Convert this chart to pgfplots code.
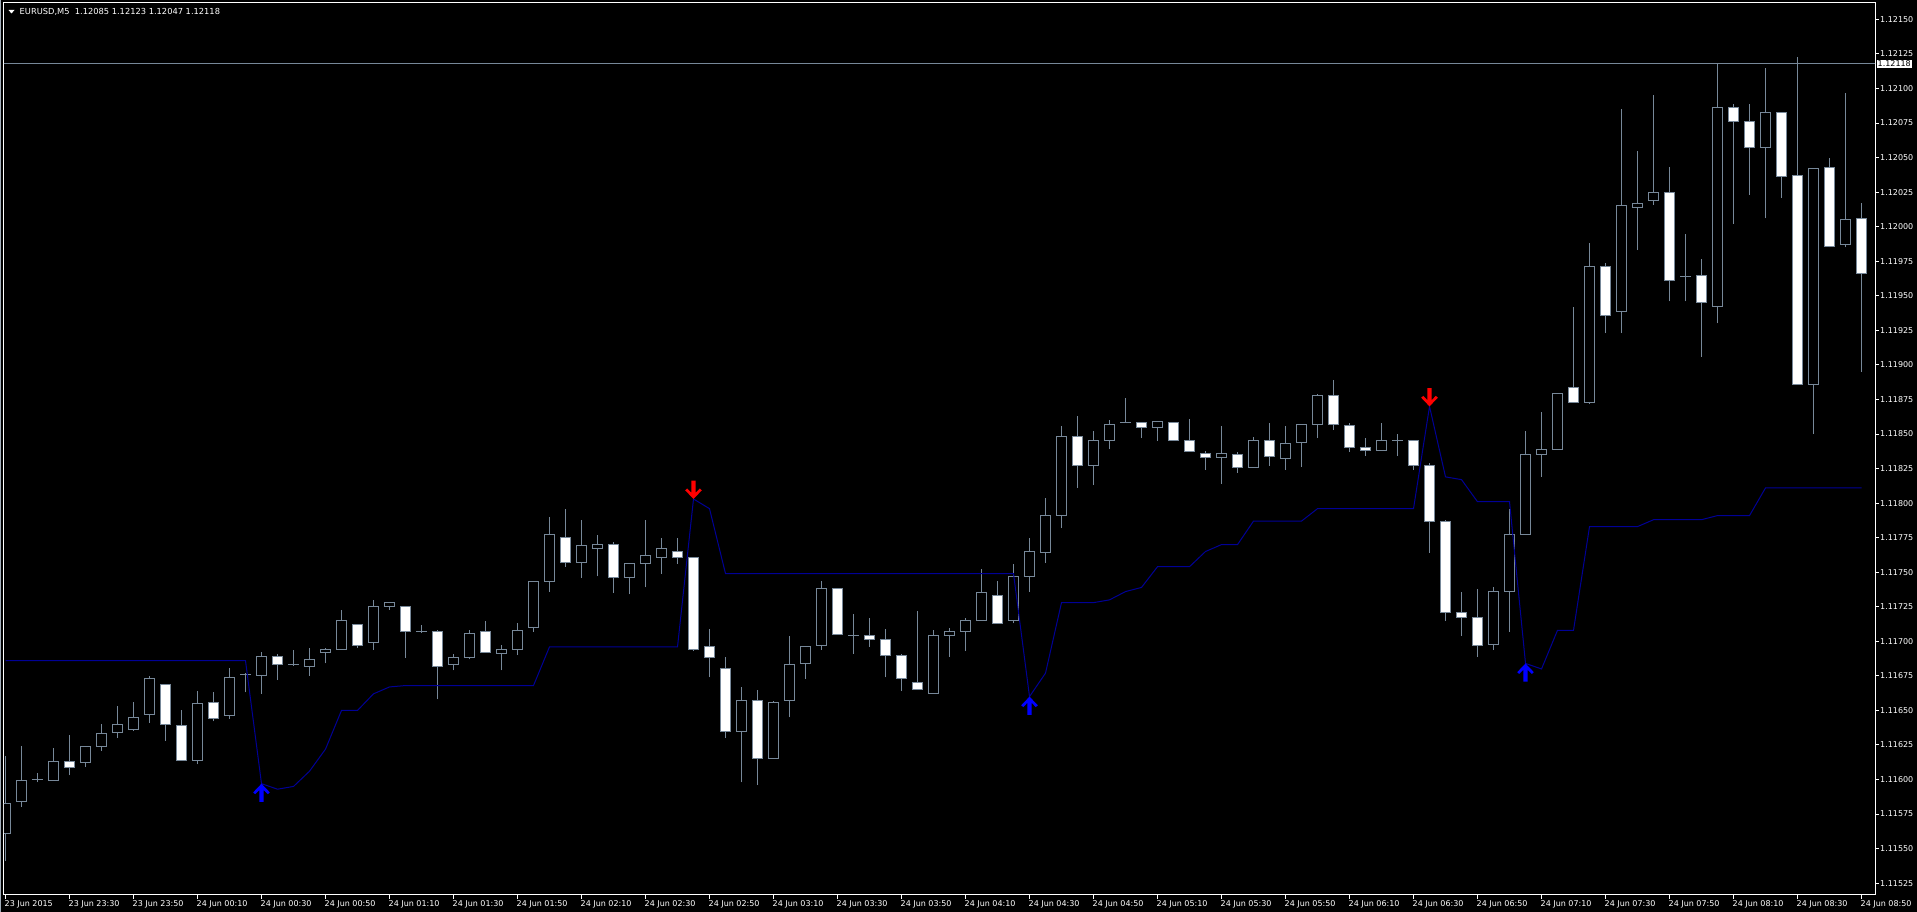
\documentclass[border=0pt]{standalone}
\usepackage{fontspec}
\setmainfont{DejaVu Sans}
\usepackage{pgfplots}
\usepackage{pgfplotstable}
\pgfplotsset{compat=1.18}

\definecolor{mtgray}{RGB}{119,136,153}
\definecolor{mtline}{RGB}{0,0,150}
\definecolor{mtblue}{RGB}{0,0,255}
\definecolor{mtred}{RGB}{255,0,0}

% MT4 style thick arrows, tip at the data point
\pgfdeclareplotmark{mtup}{%
  \pgfpathmoveto{\pgfqpoint{0pt}{0pt}}%
  \pgfpathlineto{\pgfqpoint{8.3pt}{-8.7pt}}%
  \pgfpathlineto{\pgfqpoint{6.3pt}{-10.5pt}}%
  \pgfpathlineto{\pgfqpoint{2.2pt}{-6.3pt}}%
  \pgfpathlineto{\pgfqpoint{2.2pt}{-18.3pt}}%
  \pgfpathlineto{\pgfqpoint{-2.2pt}{-18.3pt}}%
  \pgfpathlineto{\pgfqpoint{-2.2pt}{-6.3pt}}%
  \pgfpathlineto{\pgfqpoint{-6.3pt}{-10.5pt}}%
  \pgfpathlineto{\pgfqpoint{-8.3pt}{-8.7pt}}%
  \pgfpathclose\pgfusepathqfill}
\pgfdeclareplotmark{mtdown}{%
  \pgfpathmoveto{\pgfqpoint{0pt}{0pt}}%
  \pgfpathlineto{\pgfqpoint{8.3pt}{8.7pt}}%
  \pgfpathlineto{\pgfqpoint{6.3pt}{10.5pt}}%
  \pgfpathlineto{\pgfqpoint{2.2pt}{6.3pt}}%
  \pgfpathlineto{\pgfqpoint{2.2pt}{18.3pt}}%
  \pgfpathlineto{\pgfqpoint{-2.2pt}{18.3pt}}%
  \pgfpathlineto{\pgfqpoint{-2.2pt}{6.3pt}}%
  \pgfpathlineto{\pgfqpoint{-6.3pt}{10.5pt}}%
  \pgfpathlineto{\pgfqpoint{-8.3pt}{8.7pt}}%
  \pgfpathclose\pgfusepathqfill}

% EURUSD M5, bar index i (0 = 23 Jun 23:10), open high low close, trailing stop s
\pgfplotstableread{
i o h l c s
0 1.11561 1.11617 1.11541 1.11583 1.11686
1 1.11584 1.11624 1.11580 1.11599 1.11686
2 1.11600 1.11605 1.11598 1.11600 1.11686
3 1.11599 1.11623 1.11599 1.11613 1.11686
4 1.11613 1.11632 1.11603 1.11609 1.11686
5 1.11612 1.11624 1.11609 1.11624 1.11686
6 1.11624 1.11640 1.11621 1.11633 1.11686
7 1.11634 1.11653 1.11630 1.11640 1.11686
8 1.11636 1.11656 1.11635 1.11645 1.11686
9 1.11647 1.11675 1.11641 1.11673 1.11686
10 1.11669 1.11669 1.11628 1.11640 1.11686
11 1.11639 1.11650 1.11614 1.11614 1.11686
12 1.11614 1.11664 1.11611 1.11655 1.11686
13 1.11656 1.11663 1.11642 1.11644 1.11686
14 1.11646 1.11681 1.11644 1.11674 1.11686
15 1.11676 1.11677 1.11663 1.11676 1.11686
16 1.11675 1.11692 1.11662 1.11689 1.11597
17 1.11689 1.11691 1.11672 1.11683 1.11593
18 1.11683 1.11694 1.11682 1.11683 1.11595
19 1.11682 1.11695 1.11675 1.11687 1.11606
20 1.11692 1.11695 1.11684 1.11694 1.11622
21 1.11694 1.11723 1.11694 1.11715 1.11650
22 1.11712 1.11712 1.11695 1.11697 1.11650
23 1.11699 1.11730 1.11694 1.11725 1.11662
24 1.11725 1.11728 1.11723 1.11728 1.11667
25 1.11725 1.11725 1.11688 1.11707 1.11668
26 1.11707 1.11712 1.11706 1.11707 1.11668
27 1.11707 1.11708 1.11658 1.11682 1.11668
28 1.11683 1.11691 1.11679 1.11688 1.11668
29 1.11688 1.11708 1.11687 1.11706 1.11668
30 1.11707 1.11715 1.11692 1.11692 1.11668
31 1.11691 1.11697 1.11679 1.11694 1.11668
32 1.11694 1.11713 1.11690 1.11708 1.11668
33 1.11710 1.11743 1.11707 1.11743 1.11668
34 1.11743 1.11790 1.11736 1.11777 1.11696
35 1.11775 1.11796 1.11754 1.11757 1.11696
36 1.11757 1.11788 1.11746 1.11769 1.11696
37 1.11767 1.11777 1.11747 1.11770 1.11696
38 1.11770 1.11772 1.11735 1.11746 1.11696
39 1.11746 1.11756 1.11734 1.11756 1.11696
40 1.11756 1.11788 1.11739 1.11762 1.11696
41 1.11761 1.11775 1.11749 1.11767 1.11696
42 1.11765 1.11775 1.11756 1.11761 1.11696
43 1.11761 1.11761 1.11693 1.11694 1.11803
44 1.11696 1.11709 1.11674 1.11688 1.11796
45 1.11680 1.11689 1.11630 1.11635 1.11749
46 1.11635 1.11667 1.11598 1.11657 1.11749
47 1.11657 1.11665 1.11596 1.11615 1.11749
48 1.11615 1.11657 1.11615 1.11656 1.11749
49 1.11657 1.11704 1.11645 1.11683 1.11749
50 1.11684 1.11696 1.11673 1.11696 1.11749
51 1.11697 1.11744 1.11694 1.11738 1.11749
52 1.11738 1.11738 1.11705 1.11705 1.11749
53 1.11704 1.11720 1.11691 1.11704 1.11749
54 1.11704 1.11717 1.11696 1.11701 1.11749
55 1.11701 1.11709 1.11674 1.11690 1.11749
56 1.11690 1.11691 1.11664 1.11673 1.11749
57 1.11670 1.11722 1.11665 1.11665 1.11749
58 1.11662 1.11708 1.11662 1.11704 1.11749
59 1.11704 1.11710 1.11689 1.11707 1.11749
60 1.11707 1.11717 1.11693 1.11715 1.11749
61 1.11715 1.11752 1.11715 1.11735 1.11749
62 1.11733 1.11744 1.11713 1.11713 1.11749
63 1.11715 1.11756 1.11713 1.11747 1.11749
64 1.11747 1.11775 1.11736 1.11765 1.11660
65 1.11764 1.11804 1.11757 1.11791 1.11677
66 1.11791 1.11856 1.11782 1.11848 1.11728
67 1.11848 1.11863 1.11811 1.11827 1.11728
68 1.11827 1.11852 1.11813 1.11845 1.11728
69 1.11845 1.11860 1.11839 1.11857 1.11730
70 1.11858 1.11876 1.11858 1.11858 1.11736
71 1.11858 1.11859 1.11847 1.11855 1.11739
72 1.11855 1.11859 1.11845 1.11859 1.11754
73 1.11858 1.11858 1.11845 1.11845 1.11754
74 1.11845 1.11861 1.11837 1.11837 1.11754
75 1.11836 1.11838 1.11824 1.11833 1.11765
76 1.11833 1.11856 1.11814 1.11836 1.11770
77 1.11835 1.11837 1.11822 1.11826 1.11770
78 1.11826 1.11848 1.11826 1.11845 1.11787
79 1.11845 1.11858 1.11827 1.11834 1.11787
80 1.11832 1.11856 1.11824 1.11843 1.11787
81 1.11844 1.11857 1.11826 1.11857 1.11787
82 1.11857 1.11879 1.11847 1.11878 1.11796
83 1.11878 1.11889 1.11853 1.11857 1.11796
84 1.11856 1.11858 1.11837 1.11840 1.11796
85 1.11840 1.11847 1.11834 1.11838 1.11796
86 1.11838 1.11858 1.11838 1.11845 1.11796
87 1.11845 1.11850 1.11834 1.11845 1.11796
88 1.11845 1.11845 1.11824 1.11827 1.11796
89 1.11827 1.11829 1.11764 1.11787 1.11870
90 1.11787 1.11788 1.11715 1.11721 1.11819
91 1.11721 1.11736 1.11704 1.11717 1.11817
92 1.11717 1.11738 1.11689 1.11697 1.11801
93 1.11698 1.11739 1.11694 1.11736 1.11801
94 1.11736 1.11796 1.11707 1.11777 1.11801
95 1.11777 1.11852 1.11777 1.11835 1.11684
96 1.11835 1.11866 1.11819 1.11839 1.11680
97 1.11839 1.11879 1.11839 1.11879 1.11708
98 1.11884 1.11942 1.11873 1.11873 1.11708
99 1.11873 1.11988 1.11872 1.11971 1.11783
100 1.11971 1.11974 1.11923 1.11936 1.11783
101 1.11939 1.12085 1.11923 1.12015 1.11783
102 1.12014 1.12055 1.11983 1.12017 1.11783
103 1.12019 1.12095 1.12016 1.12025 1.11788
104 1.12025 1.12043 1.11946 1.11961 1.11788
105 1.11964 1.11995 1.11946 1.11964 1.11788
106 1.11965 1.11977 1.11906 1.11945 1.11788
107 1.11942 1.12118 1.11930 1.12086 1.11791
108 1.12086 1.12089 1.12002 1.12076 1.11791
109 1.12076 1.12089 1.12023 1.12057 1.11791
110 1.12057 1.12115 1.12006 1.12083 1.11811
111 1.12083 1.12083 1.12021 1.12036 1.11811
112 1.12037 1.12123 1.11886 1.11886 1.11811
113 1.11886 1.12042 1.11850 1.12042 1.11811
114 1.12043 1.12050 1.11985 1.11986 1.11811
115 1.11987 1.12097 1.11985 1.12005 1.11811
116 1.12006 1.12017 1.11895 1.11966 1.11811
}\candles

\begin{document}
\begin{tikzpicture}
\useasboundingbox (0,0) rectangle (1917pt,912pt);
\fill[black] (0,0) rectangle (1917pt,912pt);
\draw[mtgray!70, line width=1pt] (0.5pt,0) -- (0.5pt,912pt);
\begin{axis}[
    at={(4pt,17pt)}, anchor=south west,
    scale only axis, width=1871pt, height=892pt,
    xmin=-0.09375, xmax=116.84375,
    ymin=1.1151645, ymax=1.121619,
    axis line style={white, line width=1pt},
    tick style={white, line width=1pt},
    major tick length=4pt, tick align=outside,
    xtick pos=bottom, ytick pos=right,
    yticklabel pos=right,
    scaled y ticks=false,
    tick label style={font=\fontsize{8}{9}\selectfont, text=white},
    xticklabel style={anchor=north west, inner sep=0pt, xshift=-1pt, yshift=-1pt},
    yticklabel style={anchor=west, inner sep=0pt, xshift=1pt},
    xtick={0,4,...,116},
    xticklabels={23 Jun 2015,23 Jun 23:30,23 Jun 23:50,24 Jun 00:10,24 Jun 00:30,
      24 Jun 00:50,24 Jun 01:10,24 Jun 01:30,24 Jun 01:50,24 Jun 02:10,24 Jun 02:30,
      24 Jun 02:50,24 Jun 03:10,24 Jun 03:30,24 Jun 03:50,24 Jun 04:10,24 Jun 04:30,
      24 Jun 04:50,24 Jun 05:10,24 Jun 05:30,24 Jun 05:50,24 Jun 06:10,24 Jun 06:30,
      24 Jun 06:50,24 Jun 07:10,24 Jun 07:30,24 Jun 07:50,24 Jun 08:10,24 Jun 08:30,
      24 Jun 08:50},
    ytick={1.11525,1.11550,1.11575,1.11600,1.11625,1.11650,1.11675,1.11700,1.11725,
      1.11750,1.11775,1.11800,1.11825,1.11850,1.11875,1.11900,1.11925,1.11950,1.11975,
      1.12000,1.12025,1.12050,1.12075,1.12100,1.12125,1.12150},
    yticklabels={1.11525,1.11550,1.11575,1.11600,1.11625,1.11650,1.11675,1.11700,1.11725,
      1.11750,1.11775,1.11800,1.11825,1.11850,1.11875,1.11900,1.11925,1.11950,1.11975,
      1.12000,1.12025,1.12050,1.12075,1.12100,1.12125,1.12150},
    wick/.style={mtgray, line width=1pt, forget plot},
    body/.style={draw=mtgray, line width=1pt, forget plot},
]
% bid line
\addplot[mtgray, line width=1pt, forget plot] coordinates {(-1,1.12118) (118,1.12118)};
% candles
\pgfplotsinvokeforeach{0,...,116}{%
  \pgfplotstablegetelem{#1}{o}\of\candles \let\cO\pgfplotsretval
  \pgfplotstablegetelem{#1}{h}\of\candles \let\cH\pgfplotsretval
  \pgfplotstablegetelem{#1}{l}\of\candles \let\cL\pgfplotsretval
  \pgfplotstablegetelem{#1}{c}\of\candles \let\cC\pgfplotsretval
  \ifdim\cC pt<\cO pt \def\cF{white}\else\def\cF{black}\fi
  \edef\xl{\fpeval{#1-0.33}}\edef\xr{\fpeval{#1+0.33}}%
  \edef\temp{%
    \noexpand\addplot[wick] coordinates {(#1,\cL) (#1,\cH)};
    \noexpand\addplot[body, fill=\cF] coordinates {(\xl,\cO) (\xr,\cO) (\xr,\cC) (\xl,\cC)} -- cycle;
  }\temp
}
% trailing stop line
\addplot[mtline, line width=1pt] table[x=i, y=s] {\candles};
% signal arrows
\addplot[only marks, mark=mtup, mark options={fill=mtblue, draw=none}]
  coordinates {(16,1.11597) (64,1.11660) (95,1.11684)};
\addplot[only marks, mark=mtdown, mark options={fill=mtred, draw=none}]
  coordinates {(43,1.11803) (89,1.11870)};
\coordinate (bid) at (axis cs:116.84375,1.12118);
\end{axis}
\node[anchor=west, fill=white, text=black, inner sep=1pt, font=\fontsize{8}{9}\selectfont]
  at ([xshift=1.5pt]bid) {1.12118};
\fill[white] (8.5pt,902pt) -- (14.5pt,902pt) -- (11.5pt,898.5pt) -- cycle;
\node[anchor=west, inner sep=0pt, text=white, font=\fontsize{8.3}{9}\selectfont]
  at (19.5pt,900pt) {EURUSD,M5\ \ 1.12085 1.12123 1.12047 1.12118};
\end{tikzpicture}
\end{document}
